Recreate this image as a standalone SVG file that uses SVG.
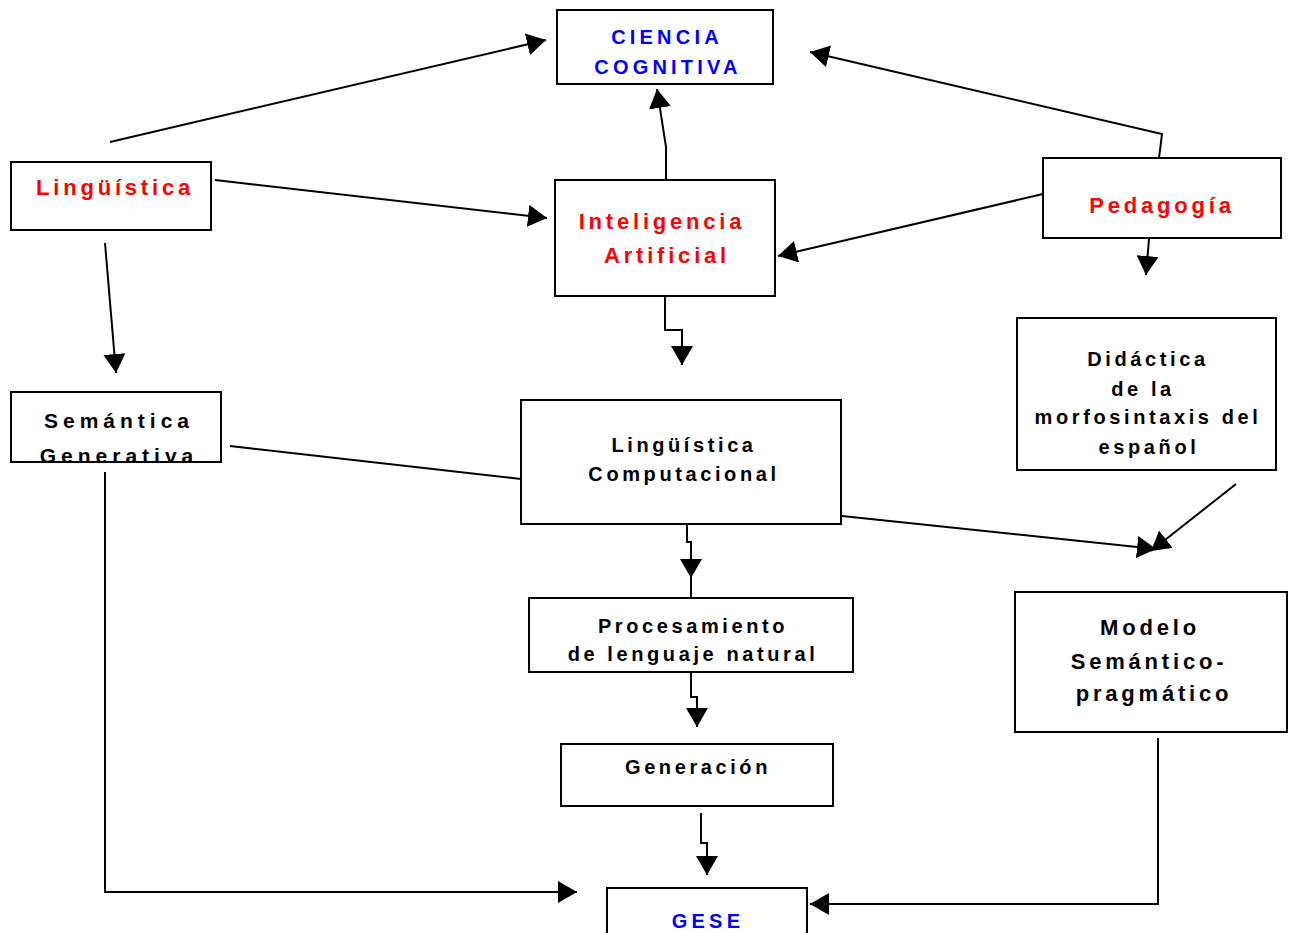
<svg xmlns="http://www.w3.org/2000/svg" width="1289" height="933" viewBox="0 0 1289 933">
  <style>
    .box { fill: #fff; stroke: #000; stroke-width: 2; }
    .lbl { font-family: "Liberation Sans", Arial, sans-serif; font-weight: bold; text-anchor: middle; letter-spacing: 4px; }
    .red { fill: #ff0000; font-size: 22px; letter-spacing: 3.8px; }
    .blue { fill: #0000ff; font-size: 20px; letter-spacing: 4.2px; }
    .blk { fill: #000; font-size: 20px; letter-spacing: 3.6px; }
    .wide { fill: #000; font-size: 21px; letter-spacing: 5px; }
    .big { fill: #000; font-size: 22px; letter-spacing: 3.8px; }
    .wire { fill: none; stroke: #000; stroke-width: 2; }
  </style>
  <defs>
    <marker id="arrow" markerUnits="userSpaceOnUse" markerWidth="20" markerHeight="22" refX="19" refY="11" orient="auto">
      <path d="M0,0 L19,11 L0,22 z" fill="#000"/>
    </marker>
  </defs>
  <rect width="1289" height="933" fill="#fff"/>

  <g id="connectors">
    <!-- Lingüística to Ciencia Cognitiva -->
    <path class="wire" d="M110,142 L546,40" marker-end="url(#arrow)"/>
    <!-- Lingüística to Inteligencia Artificial -->
    <path class="wire" d="M215,180 L547,218" marker-end="url(#arrow)"/>
    <!-- Lingüística to Semántica Generativa -->
    <path class="wire" d="M105,243 L116,373" marker-end="url(#arrow)"/>
    <!-- Inteligencia Artificial to Ciencia Cognitiva -->
    <path class="wire" d="M666,180 L666,147 L657,89" marker-end="url(#arrow)"/>
    <!-- Pedagogía to Ciencia Cognitiva -->
    <path class="wire" d="M1159,158 L1162,134 L810,52" marker-end="url(#arrow)"/>
    <!-- Pedagogía to Inteligencia Artificial -->
    <path class="wire" d="M1043,194 L778,256" marker-end="url(#arrow)"/>
    <!-- Pedagogía down -->
    <path class="wire" d="M1149,239 L1146,275" marker-end="url(#arrow)"/>
    <!-- Inteligencia Artificial to Lingüística Computacional -->
    <path class="wire" d="M665,296 L665,330 L682,330 L682,365" marker-end="url(#arrow)"/>
    <!-- Semántica Generativa to Lingüística Computacional -->
    <path class="wire" d="M230,446 L521,479"/>
    <!-- Lingüística Computacional to Modelo -->
    <path class="wire" d="M842,516 L1156,549" marker-end="url(#arrow)"/>
    <!-- Didáctica to Modelo -->
    <path class="wire" d="M1236,484 L1151,551" marker-end="url(#arrow)"/>
    <!-- Lingüística Computacional to Procesamiento -->
    <path class="wire" d="M687,524 L687,542 L691,542 L691,578" marker-end="url(#arrow)"/>
    <path class="wire" d="M691,576 L691,598"/>
    <!-- Procesamiento to Generación -->
    <path class="wire" d="M691,672 L691,697 L697,697 L697,727" marker-end="url(#arrow)"/>
    <!-- Generación to GESE -->
    <path class="wire" d="M701,813 L701,843 L707,843 L707,875" marker-end="url(#arrow)"/>
    <!-- Semántica Generativa to GESE -->
    <path class="wire" d="M105,472 L105,892 L577,892" marker-end="url(#arrow)"/>
    <!-- Modelo to GESE -->
    <path class="wire" d="M1158,738 L1158,904 L810,904" marker-end="url(#arrow)"/>
  </g>

  <g id="ciencia-cognitiva">
    <rect class="box" x="557" y="10" width="216" height="74"/>
    <text class="lbl blue" x="667" y="44">CIENCIA</text>
    <text class="lbl blue" x="668" y="74">COGNITIVA</text>
  </g>

  <g id="linguistica">
    <rect class="box" x="11" y="162" width="200" height="68"/>
    <text class="lbl red" x="115" y="195">Lingüística</text>
  </g>

  <g id="inteligencia-artificial">
    <rect class="box" x="555" y="180" width="220" height="116"/>
    <text class="lbl red" x="662" y="229">Inteligencia</text>
    <text class="lbl red" x="667" y="263">Artificial</text>
  </g>

  <g id="pedagogia">
    <rect class="box" x="1043" y="158" width="238" height="80"/>
    <text class="lbl red" x="1162" y="213">Pedagogía</text>
  </g>

  <g id="didactica">
    <rect class="box" x="1017" y="318" width="259" height="152"/>
    <text class="lbl blk" x="1148" y="366">Didáctica</text>
    <text class="lbl blk" x="1143" y="396">de la</text>
    <text class="lbl blk" x="1148" y="424">morfosintaxis del</text>
    <text class="lbl blk" x="1149" y="454">español</text>
  </g>

  <g id="semantica-generativa">
    <rect class="box" x="11" y="392" width="210" height="70"/>
    <text class="lbl wide" x="119" y="428">Semántica</text>
    <text class="lbl wide" x="119" y="463">Generativa</text>
  </g>

  <g id="linguistica-computacional">
    <rect class="box" x="521" y="400" width="320" height="124"/>
    <text class="lbl blk" x="684" y="452">Lingüística</text>
    <text class="lbl blk" x="684" y="481">Computacional</text>
  </g>

  <g id="procesamiento">
    <rect class="box" x="529" y="598" width="324" height="74"/>
    <text class="lbl blk" x="693" y="633">Procesamiento</text>
    <text class="lbl blk" x="693" y="661">de lenguaje natural</text>
  </g>

  <g id="generacion">
    <rect class="box" x="561" y="744" width="272" height="62"/>
    <text class="lbl blk" x="698" y="774">Generación</text>
  </g>

  <g id="modelo">
    <rect class="box" x="1015" y="592" width="272" height="140"/>
    <text class="lbl big" x="1150" y="635">Modelo</text>
    <text class="lbl big" x="1149" y="669">Semántico-</text>
    <text class="lbl big" x="1154" y="701">pragmático</text>
  </g>

  <g id="gese">
    <rect class="box" x="607" y="888" width="200" height="60"/>
    <text class="lbl blue" x="708" y="928">GESE</text>
  </g>
</svg>
